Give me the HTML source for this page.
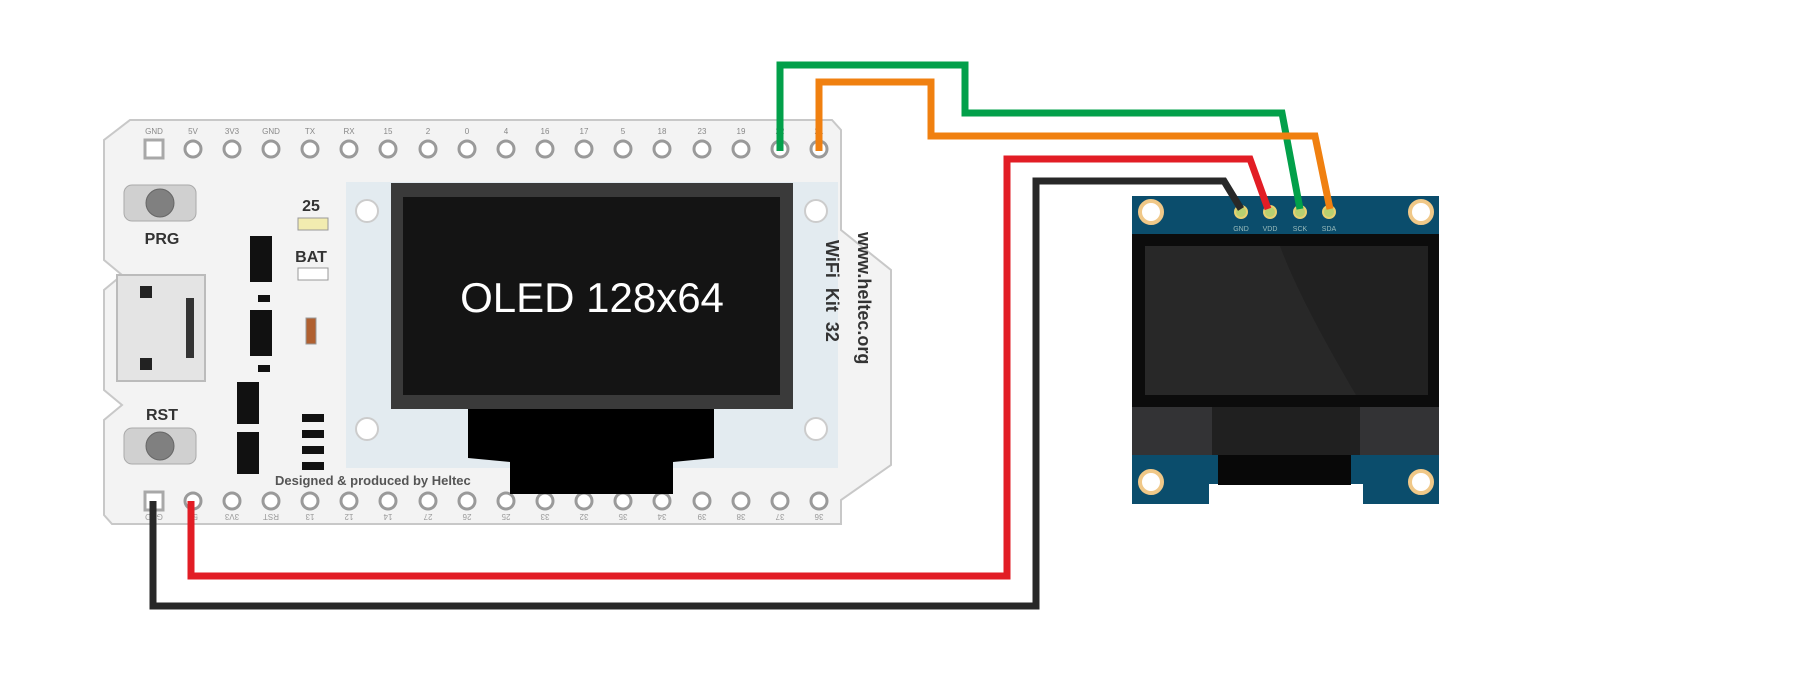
<!DOCTYPE html>
<html><head><meta charset="utf-8"><style>
html,body{margin:0;padding:0;background:#fff;width:1820px;height:700px;overflow:hidden}
svg{display:block}
text{font-family:"Liberation Sans",sans-serif}
</style></head><body>
<svg width="1820" height="700" viewBox="0 0 1820 700" xmlns="http://www.w3.org/2000/svg">
<!-- Board -->
<path d="M130,120 L832,120 L841,130 L841,230 L891,270 L891,465 L841,500 L841,524 L112,524 L104,515 L104,420 L122,405 L104,390 L104,290 L122,275 L104,260 L104,140 Z" fill="#f3f3f3" stroke="#c8c8c8" stroke-width="2"/>
<!-- top pins -->
<g fill="#fff" stroke="#9a9a9a" stroke-width="3">
<rect x="145" y="140" width="18" height="18" fill="#fff" stroke="#a8a8a8"/>
<circle cx="193" cy="149" r="8"/><circle cx="232" cy="149" r="8"/><circle cx="271" cy="149" r="8"/><circle cx="310" cy="149" r="8"/><circle cx="349" cy="149" r="8"/><circle cx="388" cy="149" r="8"/><circle cx="428" cy="149" r="8"/><circle cx="467" cy="149" r="8"/><circle cx="506" cy="149" r="8"/><circle cx="545" cy="149" r="8"/><circle cx="584" cy="149" r="8"/><circle cx="623" cy="149" r="8"/><circle cx="662" cy="149" r="8"/><circle cx="702" cy="149" r="8"/><circle cx="741" cy="149" r="8"/><circle cx="780" cy="149" r="8"/><circle cx="819" cy="149" r="8"/>
<rect x="145" y="492" width="18" height="18" fill="#fff" stroke="#a8a8a8"/>
<circle cx="193" cy="501" r="8"/><circle cx="232" cy="501" r="8"/><circle cx="271" cy="501" r="8"/><circle cx="310" cy="501" r="8"/><circle cx="349" cy="501" r="8"/><circle cx="388" cy="501" r="8"/><circle cx="428" cy="501" r="8"/><circle cx="467" cy="501" r="8"/><circle cx="506" cy="501" r="8"/><circle cx="545" cy="501" r="8"/><circle cx="584" cy="501" r="8"/><circle cx="623" cy="501" r="8"/><circle cx="662" cy="501" r="8"/><circle cx="702" cy="501" r="8"/><circle cx="741" cy="501" r="8"/><circle cx="780" cy="501" r="8"/><circle cx="819" cy="501" r="8"/>
</g>
<g font-size="8" fill="#888" text-anchor="middle">
<text x="154" y="134">GND</text><text x="193" y="134">5V</text><text x="232" y="134">3V3</text><text x="271" y="134">GND</text><text x="310" y="134">TX</text><text x="349" y="134">RX</text><text x="388" y="134">15</text><text x="428" y="134">2</text><text x="467" y="134">0</text><text x="506" y="134">4</text><text x="545" y="134">16</text><text x="584" y="134">17</text><text x="623" y="134">5</text><text x="662" y="134">18</text><text x="702" y="134">23</text><text x="741" y="134">19</text><text x="780" y="134">22</text><text x="819" y="134">21</text>
</g>
<g font-size="8" fill="#999" text-anchor="middle">
<text transform="translate(154,514) rotate(180)">GND</text><text transform="translate(193,514) rotate(180)">5V</text><text transform="translate(232,514) rotate(180)">3V3</text><text transform="translate(271,514) rotate(180)">RST</text><text transform="translate(310,514) rotate(180)">13</text><text transform="translate(349,514) rotate(180)">12</text><text transform="translate(388,514) rotate(180)">14</text><text transform="translate(428,514) rotate(180)">27</text><text transform="translate(467,514) rotate(180)">26</text><text transform="translate(506,514) rotate(180)">25</text><text transform="translate(545,514) rotate(180)">33</text><text transform="translate(584,514) rotate(180)">32</text><text transform="translate(623,514) rotate(180)">35</text><text transform="translate(662,514) rotate(180)">34</text><text transform="translate(702,514) rotate(180)">39</text><text transform="translate(741,514) rotate(180)">38</text><text transform="translate(780,514) rotate(180)">37</text><text transform="translate(819,514) rotate(180)">36</text>
</g>
<!-- buttons -->
<g>
<rect x="124" y="185" width="72" height="36" rx="8" fill="#d0d0d0" stroke="#aaa"/><circle cx="160" cy="203" r="14" fill="#808080" stroke="#666"/>
<rect x="124" y="428" width="72" height="36" rx="8" fill="#d0d0d0" stroke="#aaa"/><circle cx="160" cy="446" r="14" fill="#808080" stroke="#666"/>
</g>
<text x="162" y="244" font-size="16" font-weight="bold" fill="#333" text-anchor="middle">PRG</text>
<text x="162" y="420" font-size="16" font-weight="bold" fill="#333" text-anchor="middle">RST</text>
<!-- USB -->
<rect x="117" y="275" width="88" height="106" fill="#e4e4e4" stroke="#bbb" stroke-width="2"/>
<rect x="140" y="286" width="12" height="12" fill="#222"/><rect x="140" y="358" width="12" height="12" fill="#222"/>
<rect x="186" y="298" width="8" height="60" fill="#333"/>
<!-- components -->
<text x="311" y="211" font-size="16" font-weight="bold" fill="#333" text-anchor="middle">25</text>
<rect x="298" y="218" width="30" height="12" fill="#f2ecb0" stroke="#999"/>
<text x="311" y="262" font-size="16" font-weight="bold" fill="#333" text-anchor="middle">BAT</text>
<rect x="298" y="268" width="30" height="12" fill="#fff" stroke="#999"/>
<rect x="250" y="236" width="22" height="46" fill="#111"/>
<rect x="250" y="310" width="22" height="46" fill="#111"/>
<rect x="258" y="295" width="12" height="7" fill="#111"/><rect x="258" y="365" width="12" height="7" fill="#111"/>
<rect x="306" y="318" width="10" height="26" fill="#b06030" stroke="#999"/>
<rect x="237" y="382" width="22" height="42" fill="#111"/><rect x="237" y="432" width="22" height="42" fill="#111"/>
<rect x="302" y="414" width="22" height="8" fill="#111"/><rect x="302" y="430" width="22" height="8" fill="#111"/><rect x="302" y="446" width="22" height="8" fill="#111"/><rect x="302" y="462" width="22" height="8" fill="#111"/>
<text x="275" y="485" font-size="13" font-weight="bold" fill="#555">Designed &amp; produced by Heltec</text>
<!-- screen panel -->
<rect x="346" y="182" width="492" height="286" fill="#e3ebf0"/>
<g fill="#fff" stroke="#ccc" stroke-width="2"><circle cx="367" cy="211" r="11"/><circle cx="367" cy="429" r="11"/><circle cx="816" cy="211" r="11"/><circle cx="816" cy="429" r="11"/></g>
<rect x="391" y="183" width="402" height="226" fill="#3a3a3a"/>
<rect x="403" y="197" width="377" height="198" fill="#141414"/>
<text x="592" y="312" font-size="42" fill="#fff" text-anchor="middle">OLED 128x64</text>
<path d="M468,409 L714,409 L714,458 L673,462 L673,494 L510,494 L510,462 L468,458 Z" fill="#000"/>
<text transform="translate(826,240) rotate(90)" font-size="18" font-weight="bold" fill="#333" font-family="Liberation Mono" xml:space="preserve">WiFi  Kit  32</text>
<text transform="translate(858,232) rotate(90)" font-size="18" font-weight="bold" fill="#333" font-family="Liberation Mono">www.heltec.org</text>
<!-- OLED module -->
<rect x="1132" y="196" width="307" height="40" fill="#0b4d6c"/>
<rect x="1132" y="234" width="307" height="173" fill="#0c0c0c"/>
<rect x="1145" y="246" width="283" height="149" fill="#282828"/>
<path d="M1280,246 L1428,246 L1428,395 L1356,395 Q1300,300 1280,246 Z" fill="#212121"/>
<rect x="1132" y="407" width="80" height="48" fill="#333335"/><rect x="1360" y="407" width="79" height="48" fill="#333335"/>
<rect x="1212" y="407" width="148" height="48" fill="#202020"/>
<path d="M1132,455 L1439,455 L1439,504 L1363,504 L1363,484 L1209,484 L1209,504 L1132,504 Z" fill="#0b4d6c"/>
<rect x="1218" y="455" width="133" height="30" fill="#080808"/>
<g fill="#fff" stroke="#f0c888" stroke-width="4"><circle cx="1151" cy="212" r="11"/><circle cx="1421" cy="212" r="11"/><circle cx="1151" cy="482" r="11"/><circle cx="1421" cy="482" r="11"/></g>
<g fill="#b8d070" stroke="#e8d070" stroke-width="2"><circle cx="1241" cy="212" r="6"/><circle cx="1270" cy="212" r="6"/><circle cx="1300" cy="212" r="6"/><circle cx="1329" cy="212" r="6"/></g>
<g font-size="7" fill="#9bb" text-anchor="middle"><text x="1241" y="231">GND</text><text x="1270" y="231">VDD</text><text x="1300" y="231">SCK</text><text x="1329" y="231">SDA</text></g>
<!-- wires -->
<g fill="none" stroke-width="7" stroke-linejoin="miter">
<polyline points="780,151 780,65 965,65 965,113 1282,113 1300,209" stroke="#02a04a"/>
<polyline points="819,151 819,82 931,82 931,136 1315,136 1330,209" stroke="#f08010"/>
<polyline points="191,501 191,576 1007,576 1007,159 1250,159 1268,209" stroke="#e21d25"/>
<polyline points="153,501 153,606 1036,606 1036,181 1224,181 1241,209" stroke="#282828"/>
</g>
</svg>
</body></html>
